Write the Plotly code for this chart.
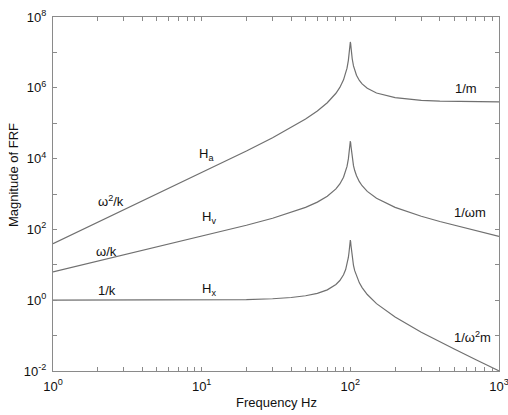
import plotly.graph_objects as go

# Frequency points (Hz)
freq = [1, 2, 3, 5, 7, 10, 15, 20, 30, 40, 50, 60, 70, 80, 85, 90, 93, 95, 97, 98, 99,
        99.5, 100, 100.5, 101, 102, 103, 105, 107, 110, 115, 120, 130, 150, 200, 300,
        400, 500, 700, 1000]

# Receptance H_x
h_x = [1.0001, 1.0004, 1.0009, 1.0025, 1.0049, 1.0101, 1.023, 1.0417, 1.0989, 1.1905,
       1.3333, 1.5625, 1.960, 2.775, 3.597, 5.240, 7.333, 10.07, 16.08, 22.63, 35.62,
       44.92, 50.0, 44.52, 35.09, 22.10, 15.55, 9.558, 6.827, 4.736, 3.093, 2.269, 1.449,
       0.800, 0.3333, 0.125, 0.06667, 0.04167, 0.02083, 0.0101]

# Mobility H_v
h_v = [6.284, 12.57, 18.87, 31.49, 44.20, 63.47, 96.42, 130.9, 207.1, 299.2, 418.9, 589.0,
       862.0, 1395, 1921, 2963, 4285, 6011, 9800, 13935, 22157, 28083, 31416, 28113,
       22268, 14164, 10064, 6306, 4590, 3273, 2235, 1711, 1184, 754.0, 418.9, 235.6,
       167.6, 130.9, 91.6, 63.47]

# Accelerance H_a
h_a = [39.48, 158.0, 355.6, 989.3, 1944, 3988, 9088, 16449, 39038, 75189, 131618, 222053,
       379108, 701267, 1026006, 1675577, 2503726, 3587966, 5973100, 8581173, 13781654,
       17557492, 19738673, 17753360, 14131273, 9077708, 6513421, 4160068, 3085857,
       2262298, 1615011, 1290094, 967091, 710645, 526390, 444106, 421179, 411288,
       402857, 398782]

x_tick_vals = [1, 2, 3, 4, 5, 6, 7, 8, 9, 10, 20, 30, 40, 50, 60, 70, 80, 90, 100,
               200, 300, 400, 500, 600, 700, 800, 900, 1000]
x_tick_text = ["10<sup>0</sup>"] + [""] * 8 + ["10<sup>1</sup>"] + [""] * 8 + \
              ["10<sup>2</sup>"] + [""] * 8 + ["10<sup>3</sup>"]
y_tick_vals = [1e-2, 1e-1, 1e0, 1e1, 1e2, 1e3, 1e4, 1e5, 1e6, 1e7, 1e8]
y_tick_text = ["10<sup>-2</sup>", "", "10<sup>0</sup>", "", "10<sup>2</sup>", "",
               "10<sup>4</sup>", "", "10<sup>6</sup>", "", "10<sup>8</sup>"]

line_col = "#707070"
fig = go.Figure()
for ys in (h_a, h_v, h_x):
    fig.add_trace(go.Scatter(x=freq, y=ys, mode="lines",
                             line=dict(color=line_col, width=1.2),
                             showlegend=False, hoverinfo="skip"))

font_main = "Liberation Sans, Arial, sans-serif"
axis_common = dict(showgrid=False, zeroline=False, showline=True, linecolor="#8a8a8a",
                   linewidth=1, mirror="ticks", ticks="inside", ticklen=4,
                   tickcolor="#8a8a8a", tickwidth=1, ticklabeloverflow="allow",
                   automargin=False,
                   tickfont=dict(family=font_main, size=13, color="#111"))

fig.update_layout(
    width=508, height=415,
    margin=dict(l=53, r=9, t=17, b=44),
    paper_bgcolor="white", plot_bgcolor="white",
    xaxis=dict(type="log", range=[0, 3.0000001], tickmode="array", tickvals=x_tick_vals,
               ticktext=x_tick_text, ticklabelstandoff=3, **axis_common),
    yaxis=dict(type="log", range=[-2, 8], tickmode="array", tickvals=y_tick_vals,
               ticktext=y_tick_text, ticklabelstandoff=3, **axis_common),
    font=dict(family=font_main, color="#111"),
)

labels = [
    ("H<sub>a</sub>", 1.035, 4.12),
    ("ω<sup>2</sup>/k", 0.39, 2.80),
    ("ω/k", 0.363, 1.38),
    ("1/k", 0.363, 0.27),
    ("H<sub>v</sub>", 1.05, 2.33),
    ("H<sub>x</sub>", 1.05, 0.30),
    ("1/m", 2.778, 5.99),
    ("1/ωm", 2.805, 2.49),
    ("1/ω<sup>2</sup>m", 2.82, -1.05),
]
for txt, lx, ly in labels:
    fig.add_annotation(x=lx, y=ly, xref="x", yref="y", text=txt, showarrow=False,
                       xanchor="center", yanchor="middle",
                       font=dict(family=font_main, size=13, color="#111"))

fig.add_annotation(x=0.5, y=-0.09, xref="paper", yref="paper", text="Frequency Hz",
                   showarrow=False, xanchor="center", yanchor="middle",
                   font=dict(family=font_main, size=13, color="#111"))
fig.add_annotation(x=-0.087, y=0.554, xref="paper", yref="paper", text="Magnitude of FRF",
                   showarrow=False, xanchor="center", yanchor="middle", textangle=-90,
                   font=dict(family=font_main, size=13, color="#111"))

fig.write_html("out.html")
